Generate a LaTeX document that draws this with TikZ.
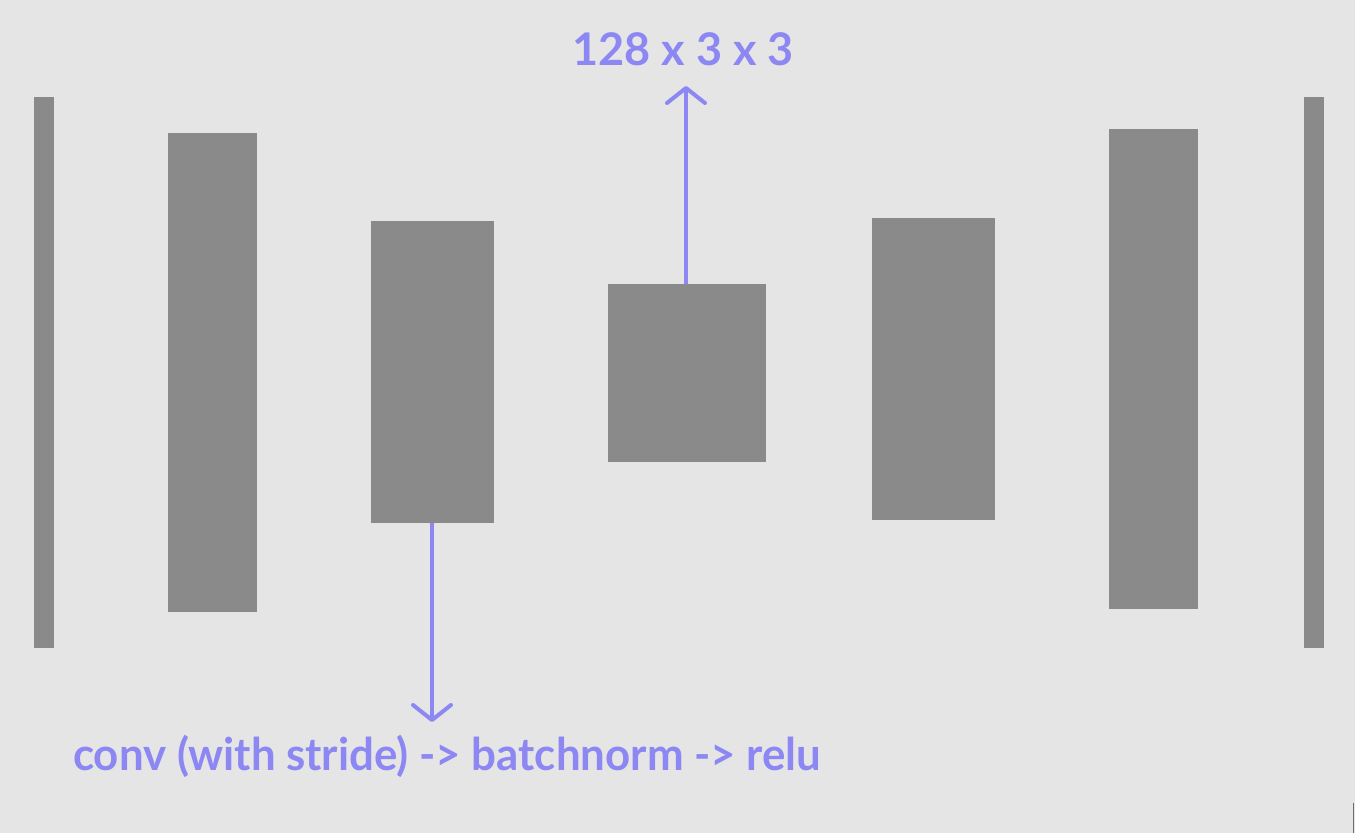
\documentclass[tikz,border=0pt]{standalone}
\usepackage{fontspec}
\setmainfont{Lato}
\usetikzlibrary{arrows.meta}
\definecolor{bg}{HTML}{E5E5E5}
\definecolor{blk}{HTML}{8A8A8A}
\definecolor{lbl}{HTML}{8C87F2}
\begin{document}
\begin{tikzpicture}[x=1pt,y=-1pt,
  blk/.style={fill=blk,draw=none,inner sep=0pt,outer sep=0pt},
  lbltext/.style={text=lbl,font=\fontsize{45}{50}\selectfont\bfseries,inner sep=0pt},
  lblarrow/.style={draw=lbl,line width=4pt,-{Straight Barb[length=15pt,width=38pt,line width=4pt,round]}}]
\fill[bg] (0,0) rectangle (1355,833);
\useasboundingbox (0,0) rectangle (1355,833);
% blocks
\node[blk,minimum width=20pt,minimum height=551pt,anchor=north west] (l0) at (34,97) {};
\node[blk,minimum width=89pt,minimum height=479pt,anchor=north west] (b1) at (168,133) {};
\node[blk,minimum width=123pt,minimum height=302pt,anchor=north west] (b2) at (371,221) {};
\node[blk,minimum width=158pt,minimum height=178pt,anchor=north west] (b3) at (608,284) {};
\node[blk,minimum width=123pt,minimum height=302pt,anchor=north west] (b4) at (872,218) {};
\node[blk,minimum width=89pt,minimum height=480pt,anchor=north west] (b5) at (1109,129) {};
\node[blk,minimum width=20pt,minimum height=551pt,anchor=north west] (r0) at (1304,97) {};
% labels
\node[lbltext,anchor=base] (top) at (683,65) {128 x 3 x 3};
\node[lbltext,anchor=base west] (bot) at (73,770) {\addfontfeature{FakeStretch=0.974}conv (with stride) -> batchnorm -> relu};
\coordinate (topend) at (686,86);
\coordinate (botend) at (432,722);
\draw[lblarrow] (b3.north -| topend) -- (topend);
\draw[lblarrow] (b2.south -| botend) -- (botend);
% corner artefact
\draw[blk!80!black,line width=1pt] (1353,803) -- (1353,833);
\end{tikzpicture}
\end{document}
